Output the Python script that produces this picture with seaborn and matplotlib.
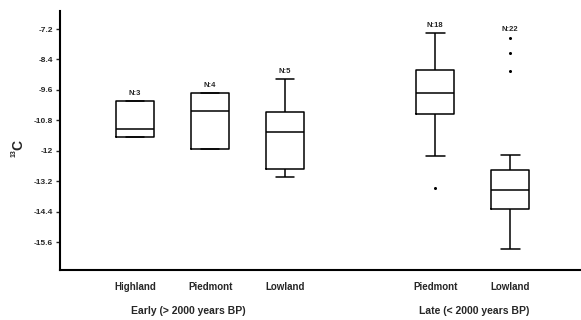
import numpy as np
import pandas as pd
import matplotlib
matplotlib.use("Agg")
import matplotlib.pyplot as plt
import seaborn as sns

# five-number summaries: [low whisker, Q1, median, Q3, high whisker]
early_highland = [-11.46, -11.46, -11.13, -10.03, -10.03]
early_piedmont = [-11.93, -11.93, -10.45, -9.72, -9.72]
early_lowland = [-13.05, -12.73, -11.26, -10.46, -9.16]
late_piedmont = [-12.22, -10.55, -9.74, -8.83, -7.35]
late_lowland = [-15.86, -14.29, -13.56, -12.76, -12.16]

# outliers
late_piedmont_out = [-13.48]
late_lowland_out = [-7.54, -8.16, -8.84]

sample_sizes = [3, 4, 5, 18, 22]
site_names = ["Highland", "Piedmont", "Lowland", "Piedmont", "Lowland"]
group_keys = ["E-High", "E-Pied", "E-Low", "L-Pied", "L-Low"]
period_labels = ["Early (> 2000 years BP)", "Late (< 2000 years BP)"]
yticks = [-7.2, -8.4, -9.6, -10.8, -12, -13.2, -14.4, -15.6]

# order with an empty slot between the two periods
order = group_keys[:3] + [" "] + group_keys[3:]
tick_names = site_names[:3] + [""] + site_names[3:]

summaries = [early_highland, early_piedmont, early_lowland, late_piedmont, late_lowland]
df = pd.DataFrame(
    [(k, v) for k, vals in zip(group_keys, summaries) for v in vals],
    columns=["group", "d13c"],
)
out_df = pd.DataFrame(
    [("L-Pied", v) for v in late_piedmont_out] + [("L-Low", v) for v in late_lowland_out],
    columns=["group", "d13c"],
)

sns.set_theme(style="ticks")
plt.rcParams["font.family"] = ["Liberation Sans", "DejaVu Sans"]

fig = plt.figure(figsize=(5.81, 3.2), dpi=100)
ax = fig.add_axes([60 / 581, 50 / 320, 520 / 581, 259 / 320])

line = dict(color="black", linewidth=1.1)
sns.boxplot(
    data=df, x="group", y="d13c", order=order, width=0.5, whis=(0, 100),
    fill=False, color="black", linewidth=1.1, showfliers=False,
    boxprops=line, medianprops=line, whiskerprops=line, capprops=line,
    ax=ax,
)
sns.stripplot(
    data=out_df, x="group", y="d13c", order=order, jitter=False,
    color="black", size=2.2, linewidth=0, ax=ax,
)

# N labels above the highest mark of each group
for key, vals, n in zip(group_keys, summaries, sample_sizes):
    top = max(vals + out_df.loc[out_df["group"] == key, "d13c"].tolist())
    ax.annotate(f"N:{n}", (order.index(key), top), xytext=(0, 3),
                textcoords="offset points", ha="center", va="bottom",
                fontsize=5.5, fontweight="bold")

ax.set_xlim(-1, 5.93)
ax.set_ylim(-16.7, -6.49)
ax.set_yticks(yticks)
ax.set_yticklabels([f"{t:g}" for t in yticks], fontsize=6, fontweight="bold")
ax.set_xticks(range(len(order)))
ax.set_xticklabels(tick_names, fontsize=7, fontweight="bold")
ax.tick_params(axis="x", length=0, pad=9)
ax.tick_params(axis="y", length=3, width=1, pad=2)

ax.text(0.71, -0.158, period_labels[0], transform=ax.get_xaxis_transform(),
        ha="center", va="center", fontsize=7.5, fontweight="bold")
ax.text(4.52, -0.158, period_labels[1], transform=ax.get_xaxis_transform(),
        ha="center", va="center", fontsize=7.5, fontweight="bold")

ax.set_xlabel("")
ax.set_ylabel("")
# y label: small superscript 13 followed by a large C, rotated
fig.text(18 / 581, 1 - 145 / 320, "C", rotation=90, ha="center", va="center",
         fontsize=10, fontweight="bold")
fig.text(14 / 581, 1 - 153 / 320, "13", rotation=90, ha="center", va="center",
         fontsize=5, fontweight="bold")

for side in ["top", "right"]:
    ax.spines[side].set_visible(False)
for side in ["left", "bottom"]:
    ax.spines[side].set_linewidth(1.5)
    ax.spines[side].set_color("black")

fig.savefig("out.png", dpi=100)
